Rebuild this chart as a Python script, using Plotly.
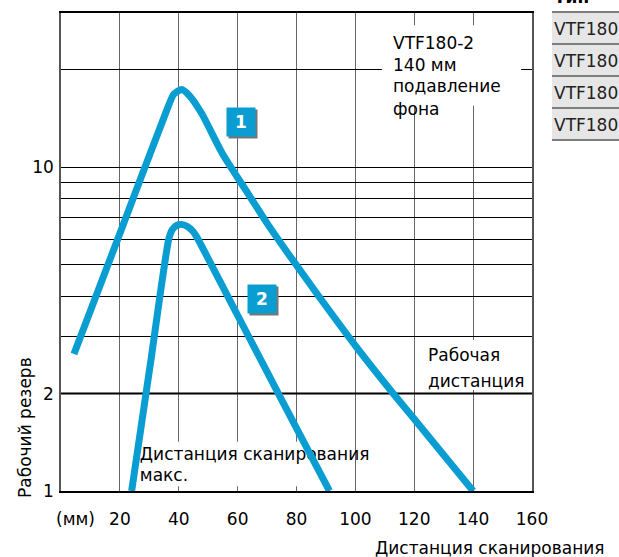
import plotly.graph_objects as go
import numpy as np

# Scanning distance (mm) vs. operating reserve, VTF180-2, 140 mm background suppression
curve1_x = [4.4, 20.0, 35.9, 38.3, 41.0, 43.6, 47.7, 55.0, 62.4, 70.2, 78.6, 88.0, 100.3, 112.5, 120.0, 140.0]
curve1_y = [2.65, 6.25, 15.0, 16.83, 17.4, 16.67, 14.72, 10.96, 8.61, 6.68, 5.19, 3.95, 2.79, 2.02, 1.67, 1.0]

curve2_x = [24.0, 30.3, 36.6, 37.8, 39.3, 40.9, 42.8, 44.8, 46.0, 57.3, 68.6, 79.9, 91.2]
curve2_y = [1.0, 2.45, 6.0, 6.42, 6.62, 6.66, 6.58, 6.35, 6.12, 3.89, 2.47, 1.57, 1.0]

x_ticks = [20, 40, 60, 80, 100, 120, 140, 160]
y_grid = [1, 2, 3, 4, 5, 6, 7, 8, 9, 10, 20]
y_labels = ["1", "2", "", "", "", "", "", "", "", "10", ""]

table_rows = ["VTF180", "VTF180", "VTF180", "VTF180"]

BLUE = "#0a9dd2"
FONT = "DejaVu Sans"
FS = 17

# plot area in pixels: x 61..532, y 13..491
def px_x(p):
    return (p - 61) / 2.95

def px_logy(p):
    return (491 - p) / 323.6

def py(p):
    return (491 - p) / 478.0

fig = go.Figure()

# label sits beneath the curves so the curve runs across it
fig.add_trace(go.Scatter(
    x=[px_x(140), px_x(140)], y=[10 ** px_logy(456), 10 ** px_logy(477)],
    mode="text", text=["Дистанция сканирования", "макс."],
    textposition="middle right",
    textfont=dict(family=FONT, size=FS, color="black"),
    hoverinfo="skip", showlegend=False))

for xs, ys in ((curve1_x, curve1_y), (curve2_x, curve2_y)):
    fig.add_trace(go.Scatter(
        x=xs, y=ys, mode="lines",
        line=dict(color=BLUE, width=7, shape="spline", smoothing=0.6),
        hoverinfo="skip", showlegend=False))

shapes = []
# heavier reference line at reserve 2
shapes.append(dict(type="line", xref="x", yref="y", x0=0, x1=160, y0=2, y1=2,
                   line=dict(color="black", width=2), layer="between"))
# white backgrounds behind the in-plot texts
for x0, x1, y0, y1 in ((27.5, 95.0, 1.035, 1.42),
                       (128.0, 158.0, 2.05, 2.93),
                       (109.0, 156.3, 15.5, 27.5)):
    shapes.append(dict(type="rect", xref="x", yref="y", x0=x0, x1=x1, y0=y0, y1=y1,
                       fillcolor="white", line=dict(width=0), layer="between"))

# partial table on the right
xl, xr = (552 - 61) / 471.0, (625 - 61) / 471.0
sep = [11, 43, 75, 107, 139]
for i in range(len(table_rows)):
    shapes.append(dict(type="rect", xref="paper", yref="paper", x0=xl, x1=xr,
                       y0=py(sep[i + 1]), y1=py(sep[i] + 2),
                       fillcolor="#e6e6e6", line=dict(width=0)))
for s in sep:
    shapes.append(dict(type="rect", xref="paper", yref="paper", x0=xl, x1=xr,
                       y0=py(s + 2), y1=py(s),
                       fillcolor="#7d7d7d", line=dict(width=0)))

annotations = []
# description block, top right
for txt, yc in (("VTF180-2", 43), ("140 мм", 65), ("подавление", 86), ("фона", 109)):
    annotations.append(dict(x=px_x(392), y=px_logy(yc), xref="x", yref="y",
                            text=txt, showarrow=False, xanchor="left", yanchor="middle",
                            font=dict(family=FONT, size=FS, color="black")))
for txt, yc in (("Рабочая", 355), ("дистанция", 381)):
    annotations.append(dict(x=px_x(427), y=px_logy(yc), xref="x", yref="y",
                            text=txt, showarrow=False, xanchor="left", yanchor="middle",
                            font=dict(family=FONT, size=FS, color="black")))

# numbered curve markers with shadow
for label, bx, by in (("1", px_x(241), px_logy(122)), ("2", px_x(262), px_logy(299))):
    annotations.append(dict(x=bx, y=by, xref="x", yref="y", text=" ", showarrow=False,
                            width=26, height=26, bgcolor="#777777", borderpad=1,
                            xshift=2, yshift=-2))
    annotations.append(dict(x=bx, y=by, xref="x", yref="y", text="<b>%s</b>" % label,
                            showarrow=False, width=26, height=26, bgcolor=BLUE, borderpad=1,
                            font=dict(family=FONT, size=17, color="white")))

# axis titles and unit
annotations.append(dict(x=(25 - 61) / 471.0, y=py(428), xref="paper", yref="paper",
                        text="Рабочий резерв", textangle=-90, showarrow=False,
                        xanchor="center", yanchor="middle",
                        font=dict(family=FONT, size=FS, color="black")))
annotations.append(dict(x=(607 - 61) / 471.0, y=py(548), xref="paper", yref="paper",
                        text="Дистанция сканирования", showarrow=False,
                        xanchor="right", yanchor="middle",
                        font=dict(family=FONT, size=FS, color="black")))
annotations.append(dict(x=(75 - 61) / 471.0, y=py(519), xref="paper", yref="paper",
                        text="(мм)", showarrow=False, xanchor="center", yanchor="middle",
                        font=dict(family=FONT, size=FS, color="black")))

# table texts
annotations.append(dict(x=xl, y=py(-3), xref="paper", yref="paper", text="<b>Тип</b>",
                        showarrow=False, xanchor="left", yanchor="middle",
                        font=dict(family=FONT, size=FS, color="black")))
for i, t in enumerate(table_rows):
    annotations.append(dict(x=xl, y=py(29 + 32 * i), xref="paper", yref="paper", text=t,
                            showarrow=False, xanchor="left", yanchor="middle",
                            font=dict(family=FONT, size=FS, color="#222222")))

fig.update_layout(
    width=619, height=557,
    margin=dict(l=61, r=87, t=13, b=66),
    paper_bgcolor="white", plot_bgcolor="white",
    font=dict(family=FONT, size=FS, color="black"),
    shapes=shapes, annotations=annotations,
    showlegend=False,
    xaxis=dict(range=[0, 160], tickvals=x_ticks, ticktext=[str(v) for v in x_ticks],
               showgrid=True, gridcolor="#666666", gridwidth=1.2,
               showline=True, linecolor="black", linewidth=1.5, mirror=True,
               ticks="", ticklabelstandoff=12, zeroline=False,
               tickfont=dict(family=FONT, size=FS, color="black")),
    yaxis=dict(type="log", range=[0, np.log10(30)], tickvals=y_grid, ticktext=y_labels,
               showgrid=True, gridcolor="black", gridwidth=1,
               showline=True, linecolor="#555555", linewidth=1.5, mirror=True,
               ticks="", ticklabelstandoff=2, zeroline=False,
               tickfont=dict(family=FONT, size=FS, color="black")),
)

fig.write_html("out.html")
